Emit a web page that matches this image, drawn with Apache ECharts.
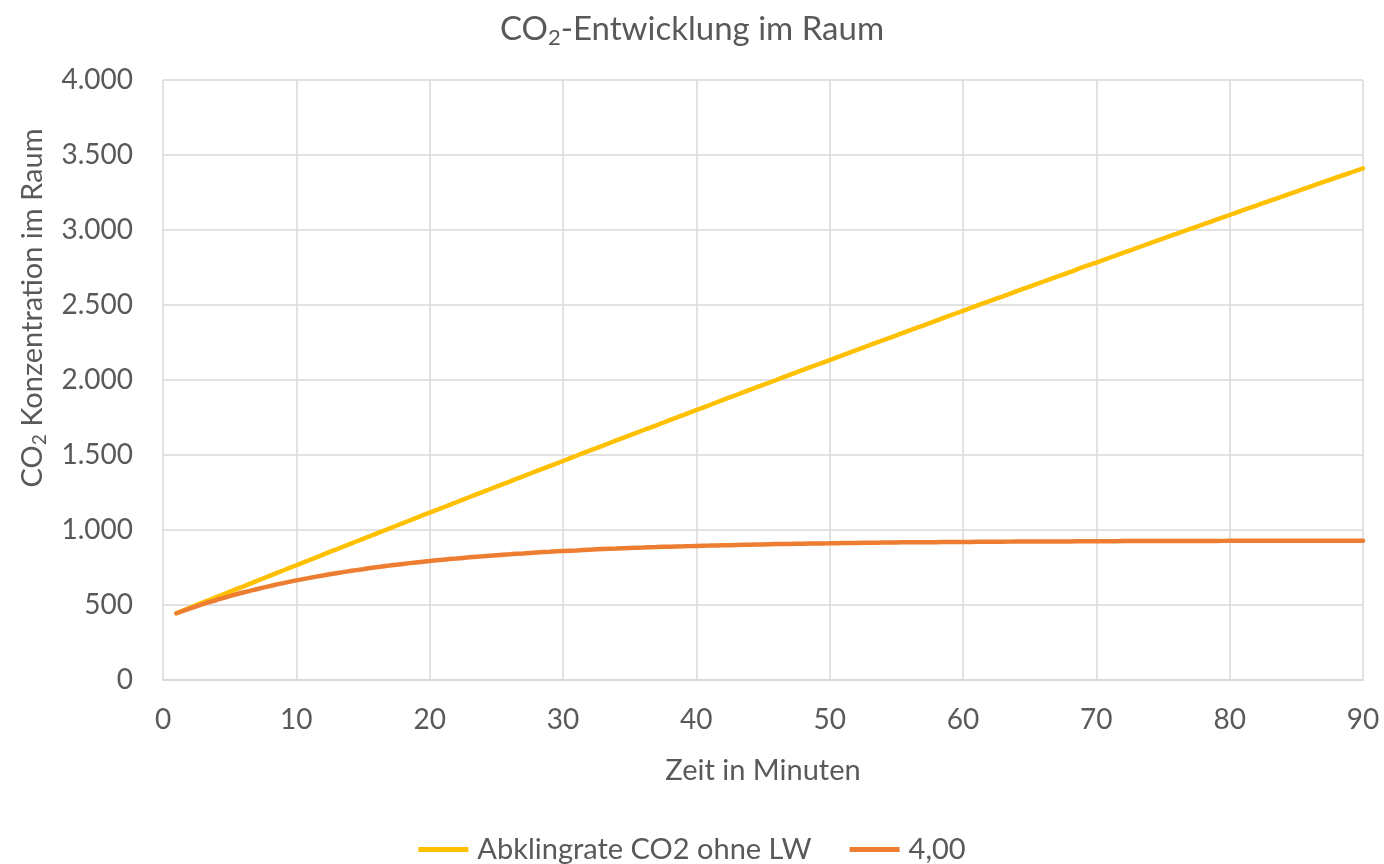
<!DOCTYPE html>
<html>
<head>
<meta charset="utf-8">
<script src="https://cdn.jsdelivr.net/npm/echarts@6/dist/echarts.min.js"></script>
<style>
  html, body { margin: 0; padding: 0; background: #ffffff; }
  #chart { width: 1384px; height: 864px; }
</style>
</head>
<body>
<div id="chart"></div>
<script>
// Zeit in Minuten
const minutes = [
  1, 2, 3, 4, 5, 6, 7, 8, 9, 10,
  11, 12, 13, 14, 15, 16, 17, 18, 19, 20,
  21, 22, 23, 24, 25, 26, 27, 28, 29, 30,
  31, 32, 33, 34, 35, 36, 37, 38, 39, 40,
  41, 42, 43, 44, 45, 46, 47, 48, 49, 50,
  51, 52, 53, 54, 55, 56, 57, 58, 59, 60,
  61, 62, 63, 64, 65, 66, 67, 68, 69, 70,
  71, 72, 73, 74, 75, 76, 77, 78, 79, 80,
  81, 82, 83, 84, 85, 86, 87, 88, 89, 90
];

// CO2-Konzentration ohne Lüftung (ppm)
const ohneLW = [
  445, 481, 517, 552, 588, 623, 659, 694, 730, 765,
  800, 836, 871, 906, 941, 976, 1011, 1046, 1081, 1116,
  1150, 1185, 1220, 1254, 1289, 1323, 1358, 1392, 1426, 1460,
  1495, 1529, 1563, 1597, 1631, 1665, 1698, 1732, 1766, 1800,
  1833, 1867, 1900, 1934, 1967, 2000, 2034, 2067, 2100, 2133,
  2166, 2199, 2232, 2265, 2298, 2331, 2363, 2396, 2429, 2461,
  2494, 2526, 2558, 2591, 2623, 2655, 2687, 2719, 2752, 2783,
  2815, 2847, 2879, 2911, 2943, 2974, 3006, 3037, 3069, 3100,
  3132, 3163, 3194, 3225, 3256, 3288, 3319, 3350, 3380, 3411
];

// CO2-Konzentration bei Luftwechsel 4,00 (ppm)
const lw400 = [
  445, 476, 506, 533, 559, 583, 605, 626, 646, 664,
  681, 697, 712, 726, 739, 752, 763, 774, 784, 793,
  802, 810, 818, 825, 832, 838, 844, 850, 855, 860,
  864, 869, 873, 876, 880, 883, 886, 889, 891, 894,
  896, 898, 900, 902, 904, 906, 907, 909, 910, 911,
  913, 914, 915, 916, 917, 918, 918, 919, 920, 920,
  921, 922, 922, 923, 923, 924, 924, 924, 925, 925,
  925, 926, 926, 926, 927, 927, 927, 927, 927, 928,
  928, 928, 928, 928, 928, 928, 929, 929, 929, 929
];

const seriesNames = ['Abklingrate CO2 ohne LW', '4,00'];
const seriesColors = ['#FFC000', '#ED7D31'];

const FONT = 'Lato, "Open Sans", sans-serif';
const TEXT = '#595959';
const GRID = '#D9D9D9';

function pairs(ys) {
  return minutes.map((m, i) => [m, ys[i]]);
}

// thousands separator as in German notation: 4.000
function deNumber(v) {
  return String(Math.round(v)).replace(/\B(?=(\d{3})+(?!\d))/g, '.');
}

const chart = echarts.init(document.getElementById('chart'), null, { renderer: 'canvas' });

chart.setOption({
  backgroundColor: '#ffffff',
  animation: false,
  title: {
    text: '{a|CO}{s|2}{a|-Entwicklung im Raum}',
    left: 'center',
    top: 4,
    textStyle: {
      rich: {
        a: { fontFamily: FONT, fontSize: 33, fontWeight: 'normal', color: TEXT },
        s: { fontFamily: FONT, fontSize: 22, fontWeight: 'normal', color: TEXT, padding: [18, 0, 0, 0] }
      }
    }
  },
  grid: { left: 163, right: 21, top: 80, bottom: 184, containLabel: false },
  legend: {
    top: 830,
    left: 'center',
    itemWidth: 50,
    itemHeight: 14,
    itemGap: 38,
    data: seriesNames.map((n, i) => ({
      name: n,
      icon: 'path://M0,5 L50,5 L50,10 L0,10 Z',
      itemStyle: { color: seriesColors[i] }
    })),
    textStyle: { fontFamily: FONT, fontSize: 29, color: TEXT, padding: [0, 0, 0, 4] }
  },
  xAxis: {
    type: 'value',
    min: 0,
    max: 90,
    interval: 10,
    name: 'Zeit in Minuten',
    nameLocation: 'middle',
    nameGap: 76,
    nameTextStyle: { fontFamily: FONT, fontSize: 29, color: TEXT },
    axisLine: { show: true, lineStyle: { color: GRID, width: 2 } },
    axisTick: { show: false },
    axisLabel: { fontFamily: FONT, fontSize: 28, color: TEXT, margin: 26 },
    splitLine: { show: true, lineStyle: { color: GRID, width: 1.5 } }
  },
  yAxis: {
    type: 'value',
    min: 0,
    max: 4000,
    interval: 500,
    name: '{a|CO}{s|2}{a| Konzentration im Raum}',
    nameLocation: 'middle',
    nameGap: 114,
    nameRotate: 90,
    nameTextStyle: {
      padding: [0, 0, 0, 144],
      rich: {
        a: { fontFamily: FONT, fontSize: 29, color: TEXT },
        s: { fontFamily: FONT, fontSize: 19, color: TEXT, padding: [14, 0, 0, 0] }
      }
    },
    axisLine: { show: false },
    axisTick: { show: false },
    axisLabel: {
      fontFamily: FONT, fontSize: 28, color: TEXT, margin: 30,
      formatter: deNumber
    },
    splitLine: { show: true, lineStyle: { color: GRID, width: 1.5 } }
  },
  series: [
    {
      name: seriesNames[0],
      type: 'line',
      data: pairs(ohneLW),
      showSymbol: false,
      symbol: 'none',
      smooth: true,
      lineStyle: { color: seriesColors[0], width: 4.5, cap: 'round' },
      itemStyle: { color: seriesColors[0] },
      z: 2
    },
    {
      name: seriesNames[1],
      type: 'line',
      data: pairs(lw400),
      showSymbol: false,
      symbol: 'none',
      smooth: true,
      lineStyle: { color: seriesColors[1], width: 4.5, cap: 'round' },
      itemStyle: { color: seriesColors[1] },
      z: 3
    }
  ]
});
</script>
</body>
</html>
